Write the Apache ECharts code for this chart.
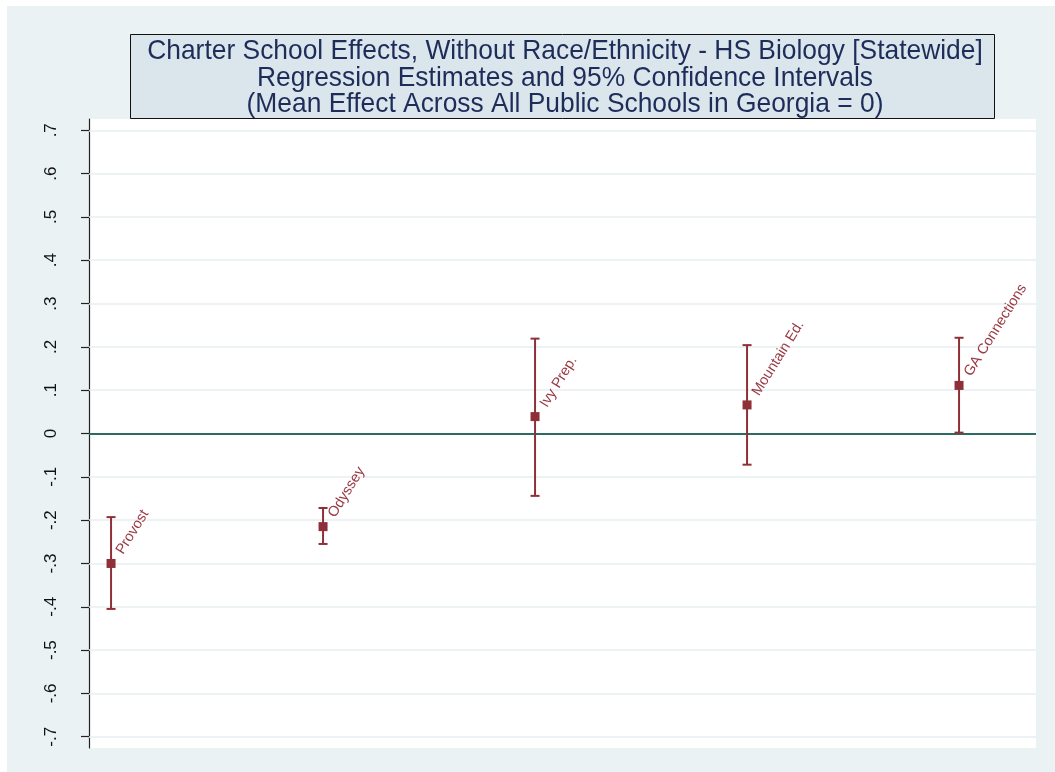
<!DOCTYPE html>
<html><head><meta charset="utf-8">
<script src="https://cdn.jsdelivr.net/npm/echarts@6/dist/echarts.min.js"></script>
<style>html,body{margin:0;padding:0;background:#fff}#c{width:1055px;height:772px}</style>
</head><body><div id="c"></div>
<script>
const titleLines = [
  'Charter School Effects, Without Race/Ethnicity - HS Biology [Statewide]',
  'Regression Estimates and 95% Confidence Intervals',
  '(Mean Effect Across All Public Schools in Georgia = 0)'
];
const schools = ['Provost', 'Odyssey', 'Ivy Prep.', 'Mountain Ed.', 'GA Connections'];
const positions = [1, 2, 3, 4, 5];
const estimates = [-0.300, -0.215, 0.039, 0.066, 0.111];
const ciLow = [-0.405, -0.255, -0.144, -0.072, 0.002];
const ciHigh = [-0.193, -0.172, 0.219, 0.204, 0.221];
const yTicks = [-0.7, -0.6, -0.5, -0.4, -0.3, -0.2, -0.1, 0, 0.1, 0.2, 0.3, 0.4, 0.5, 0.6, 0.7];

const RED = '#8f3039';
const fmt = v => {
  if (Math.abs(v) < 1e-9) return '0';
  return (v < 0 ? '-' : '') + Math.abs(v).toFixed(1).replace(/^0/, '');
};

const chart = echarts.init(document.getElementById('c'), null, {renderer: 'canvas'});
const titleX = 565;
const titleFont = 26.4;
const tfont = titleFont + 'px "Liberation Sans", Arial, sans-serif';
chart.setOption({
  backgroundColor: '#ffffff',
  animation: false,
  graphic: [
    {type: 'rect', z: -100, shape: {x: 7, y: 6, width: 1048, height: 766}, style: {fill: '#eaf2f3'}},
    {type: 'rect', z: 10, shape: {x: 130.5, y: 34.5, width: 864, height: 84}, style: {fill: '#dbe6ec', stroke: '#111', lineWidth: 1}},
    {type: 'text', z: 11, x: titleX, y: 51.5, scaleY: 1.08, style: {text: titleLines[0], fill: '#1e2c5a', font: tfont, textAlign: 'center', textVerticalAlign: 'middle'}},
    {type: 'text', z: 11, x: titleX, y: 78, scaleY: 1.08, style: {text: titleLines[1], fill: '#1e2c5a', font: tfont, textAlign: 'center', textVerticalAlign: 'middle'}},
    {type: 'text', z: 11, x: titleX, y: 104, scaleY: 1.08, style: {text: titleLines[2], fill: '#1e2c5a', font: tfont, textAlign: 'center', textVerticalAlign: 'middle'}}
  ],
  grid: {left: 89, right: 19, top: 119, bottom: 24, show: true, backgroundColor: '#ffffff', borderWidth: 0, containLabel: false},
  xAxis: {
    type: 'value', min: 0.896, max: 5.363,
    show: false
  },
  yAxis: {
    type: 'value', min: -0.726, max: 0.726,
    axisLine: {show: true, lineStyle: {color: '#222', width: 1.2}},
    axisTick: {show: true, length: 8, inside: false, customValues: yTicks, lineStyle: {color: '#222', width: 1.2}},
    axisLabel: {show: true, customValues: yTicks, formatter: fmt, rotate: 90, margin: 29,
      color: '#111', fontSize: 17, fontFamily: '"Liberation Sans", Arial, sans-serif'},
    splitLine: {show: false}
  },
  series: [
    {
      type: 'line', data: [], silent: true, z: 1,
      markLine: {
        z: 1, silent: true, symbol: 'none', animation: false,
        label: {show: false},
        lineStyle: {color: '#e7eff1', width: 1.6, type: 'solid'},
        data: yTicks.filter(v => v !== 0).map(v => ({yAxis: v}))
      }
    },
    {
      type: 'line', data: [], silent: true, z: 2,
      markLine: {
        z: 2, silent: true, symbol: 'none', animation: false,
        label: {show: false},
        lineStyle: {color: '#2c6a62', width: 2, type: 'solid'},
        data: [{yAxis: 0}]
      }
    },
    {
      type: 'custom', z: 3,
      data: positions.map((p, i) => [p, ciLow[i], ciHigh[i]]),
      renderItem: function (params, api) {
        const x = api.value(0);
        const a = api.coord([x, api.value(1)]);
        const b = api.coord([x, api.value(2)]);
        const hw = 4.5;
        const st = {stroke: RED, lineWidth: 2};
        return {type: 'group', children: [
          {type: 'line', shape: {x1: a[0], y1: a[1], x2: b[0], y2: b[1]}, style: st},
          {type: 'line', shape: {x1: a[0] - hw, y1: a[1], x2: a[0] + hw, y2: a[1]}, style: st},
          {type: 'line', shape: {x1: b[0] - hw, y1: b[1], x2: b[0] + hw, y2: b[1]}, style: st}
        ]};
      }
    },
    {
      type: 'scatter', z: 4,
      symbol: 'rect', symbolSize: 9,
      itemStyle: {color: RED, opacity: 1},
      data: positions.map((p, i) => ({value: [p, estimates[i]], name: schools[i]})),
      label: {
        show: true, formatter: p => p.name, position: [13, -6], rotate: 58,
        align: 'left', verticalAlign: 'middle',
        color: '#9a3a44', fontSize: 14.5, fontFamily: '"Liberation Sans", Arial, sans-serif'
      }
    }
  ]
});
</script></body></html>
